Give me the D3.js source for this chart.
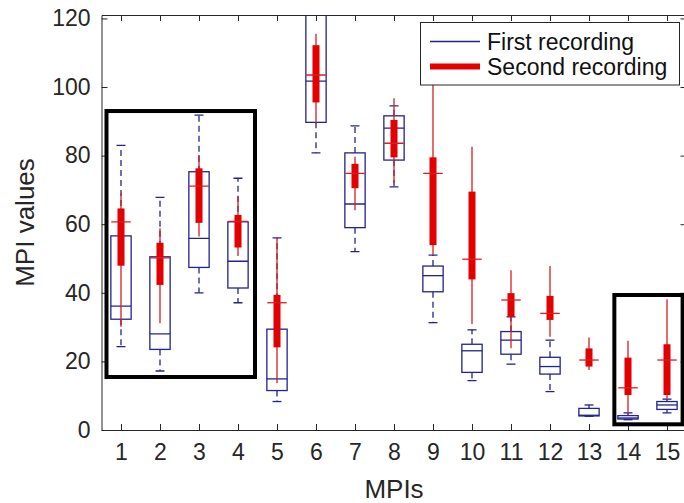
<!DOCTYPE html>
<html>
<head>
<meta charset="utf-8">
<script src="https://cdn.jsdelivr.net/npm/d3@7"></script>
<style>
  html, body { margin: 0; padding: 0; background: #fff; }
  svg { display: block; font-family: "Liberation Sans", Arial, Helvetica, sans-serif; }
</style>
</head>
<body>
<svg id="chart" width="684" height="503"></svg>
<script>
// ---- data ----
const categories = [1, 2, 3, 4, 5, 6, 7, 8, 9, 10, 11, 12, 13, 14, 15];
const yTicks = [0, 20, 40, 60, 80, 100, 120];
const seriesNames = ["First recording", "Second recording"];

// First recording (blue, standard boxplot)
const firstLo  = [24.3, 17.2, 40.0, 37.1,  8.3,  80.8, 52.0, 70.9, 31.3, 14.4, 19.2, 11.2, 4.0, 3.0, 5.0];
const firstQ1  = [32.3, 23.5, 47.4, 41.4, 11.5,  89.7, 59.0, 78.7, 40.3, 16.8, 22.1, 16.3, 4.1, 3.2, 6.0];
const firstMed = [36.1, 28.0, 55.9, 49.2, 14.9, 101.7, 65.9, 88.0, 45.0, 23.1, 26.2, 18.5, 4.3, 3.5, 7.3];
const firstQ3  = [56.6, 50.5, 75.3, 60.7, 29.4, 126.0, 80.8, 91.6, 47.8, 25.0, 28.7, 21.2, 6.3, 4.2, 8.3];
const firstHi  = [83.0, 67.8, 91.8, 73.4, 56.0, 140.0, 88.7, 94.5, 51.0, 29.2, 33.0, 26.2, 7.3, 5.0, 9.0];

// Second recording (red, compact boxplot)
const secondLo  = [30.1, 31.1, 56.4, 50.7, 13.7,  89.4, 64.1, 72.0,  51.0, 30.9, 23.8, 27.2, 17.5,  4.8,  9.2];
const secondQ1  = [47.9, 42.3, 60.4, 53.2, 24.1,  95.5, 70.5, 79.5,  53.9, 43.9, 33.0, 32.1, 18.5, 10.2, 10.2];
const secondMed = [60.7, 50.2, 71.1, 60.8, 37.1, 103.5, 74.8, 83.6,  74.8, 49.8, 37.9, 34.0, 20.4, 12.3, 20.4];
const secondQ3  = [64.6, 54.6, 76.3, 62.7, 39.4, 112.2, 77.6, 90.4,  79.5, 69.5, 39.9, 39.1, 23.8, 21.1, 25.0];
const secondHi  = [69.0, 58.8, 80.2, 68.0, 56.0, 115.5, 79.7, 96.7, 103.0, 82.6, 46.6, 47.8, 27.0, 26.0, 38.1];

// Highlight rectangles (data coords): [x0, x1, yLow, yHigh]
const highlightX0 = [0.628, 13.65];
const highlightX1 = [4.436, 15.40];
const highlightY0 = [15.45, 1.66];
const highlightY1 = [93.0, 39.36];

// ---- layout ----
const svg = d3.select("#chart");
const L = 101.5, R = 686.5, T = 15, B = 430;
const x = d3.scaleLinear().domain([0.5, 15.5]).range([L, R]);
const y = d3.scaleLinear().domain([0, 121]).range([B, T]);
const axisCol = "#262626";
const blue = "#23238f";
const red = "#e30000";
const redThin = "#d42020";

svg.append("defs").append("clipPath").attr("id", "clip")
  .append("rect").attr("x", L).attr("y", T).attr("width", R - L).attr("height", B - T);

// axes (box)
const gAx = svg.append("g");
gAx.append("g").attr("transform", `translate(0,${B})`)
  .call(d3.axisBottom(x).tickValues(categories).tickSizeInner(-6).tickSizeOuter(0).tickPadding(14).tickFormat(d3.format("d")))
  .call(g => { g.select(".domain").attr("stroke", axisCol); g.selectAll("line").attr("stroke", axisCol);
               g.selectAll("text").attr("fill", axisCol).attr("font-size", 23); });
gAx.append("g").attr("transform", `translate(0,${T})`)
  .call(d3.axisTop(x).tickValues(categories).tickSizeInner(-6).tickSizeOuter(0).tickFormat(""))
  .call(g => { g.select(".domain").attr("stroke", axisCol); g.selectAll("line").attr("stroke", axisCol); });
gAx.append("g").attr("transform", `translate(${L},0)`)
  .call(d3.axisLeft(y).tickValues(yTicks).tickSizeInner(-6).tickSizeOuter(0).tickPadding(11))
  .call(g => { g.select(".domain").attr("stroke", axisCol); g.selectAll("line").attr("stroke", axisCol);
               g.selectAll("text").attr("fill", axisCol).attr("font-size", 23); });
gAx.append("g").attr("transform", `translate(${R},0)`)
  .call(d3.axisRight(y).tickValues(yTicks).tickSizeInner(-6).tickSizeOuter(0).tickFormat(""))
  .call(g => { g.select(".domain").attr("stroke", axisCol); g.selectAll("line").attr("stroke", axisCol); });

// axis titles
svg.append("text").attr("x", (L + R) / 2).attr("y", 498).attr("text-anchor", "middle")
  .attr("font-size", 26).attr("fill", axisCol).text("MPIs");
svg.append("text").attr("transform", `translate(34,${(T + B) / 2}) rotate(-90)`).attr("text-anchor", "middle")
  .attr("font-size", 26).attr("fill", axisCol).text("MPI values");

const plot = svg.append("g").attr("clip-path", "url(#clip)");
const idx = d3.range(categories.length);
const boxHalf = 0.26, capHalf = 0.115, redHalf = 0.09, redMedHalf = 0.25;

// First recording (blue)
const gB = plot.append("g").attr("stroke", blue).attr("stroke-width", 1.3).attr("fill", "none");
gB.selectAll(".wu").data(idx).join("line")
  .attr("x1", i => x(categories[i])).attr("x2", i => x(categories[i]))
  .attr("y1", i => y(firstQ3[i])).attr("y2", i => y(firstHi[i])).attr("stroke-dasharray", "6,4");
gB.selectAll(".wl").data(idx).join("line")
  .attr("x1", i => x(categories[i])).attr("x2", i => x(categories[i]))
  .attr("y1", i => y(firstQ1[i])).attr("y2", i => y(firstLo[i])).attr("stroke-dasharray", "6,4");
gB.selectAll(".cu").data(idx).join("line")
  .attr("x1", i => x(categories[i] - capHalf)).attr("x2", i => x(categories[i] + capHalf))
  .attr("y1", i => y(firstHi[i])).attr("y2", i => y(firstHi[i]));
gB.selectAll(".cl").data(idx).join("line")
  .attr("x1", i => x(categories[i] - capHalf)).attr("x2", i => x(categories[i] + capHalf))
  .attr("y1", i => y(firstLo[i])).attr("y2", i => y(firstLo[i]));
gB.selectAll("rect").data(idx).join("rect")
  .attr("x", i => x(categories[i] - boxHalf)).attr("width", i => x(categories[i] + boxHalf) - x(categories[i] - boxHalf))
  .attr("y", i => y(firstQ3[i])).attr("height", i => y(firstQ1[i]) - y(firstQ3[i]));
gB.selectAll(".md").data(idx).join("line")
  .attr("x1", i => x(categories[i] - boxHalf)).attr("x2", i => x(categories[i] + boxHalf))
  .attr("y1", i => y(firstMed[i])).attr("y2", i => y(firstMed[i]));

// Second recording (red, compact)
const gR = plot.append("g");
gR.selectAll(".w").data(idx).join("line")
  .attr("x1", i => x(categories[i])).attr("x2", i => x(categories[i]))
  .attr("y1", i => y(secondHi[i])).attr("y2", i => y(secondLo[i]))
  .attr("stroke", redThin).attr("stroke-width", 1.3);
gR.selectAll("rect").data(idx).join("rect")
  .attr("x", i => x(categories[i] - redHalf)).attr("width", i => x(categories[i] + redHalf) - x(categories[i] - redHalf))
  .attr("y", i => y(secondQ3[i])).attr("height", i => y(secondQ1[i]) - y(secondQ3[i]))
  .attr("fill", red);
gR.selectAll(".md").data(idx).join("line")
  .attr("x1", i => x(categories[i] - redMedHalf)).attr("x2", i => x(categories[i] + redMedHalf))
  .attr("y1", i => y(secondMed[i])).attr("y2", i => y(secondMed[i]))
  .attr("stroke", redThin).attr("stroke-width", 1.3);

// Highlight rectangles
svg.append("g").selectAll("rect").data(d3.range(highlightX0.length)).join("rect")
  .attr("x", i => x(highlightX0[i])).attr("width", i => x(highlightX1[i]) - x(highlightX0[i]))
  .attr("y", i => y(highlightY1[i])).attr("height", i => y(highlightY0[i]) - y(highlightY1[i]))
  .attr("fill", "none").attr("stroke", "#000").attr("stroke-width", 4);

// Legend
const lg = svg.append("g");
lg.append("rect").attr("x", 420.5).attr("y", 22.5).attr("width", 259).attr("height", 62.5)
  .attr("fill", "#fff").attr("stroke", axisCol).attr("stroke-width", 1);
lg.append("line").attr("x1", 430).attr("x2", 480).attr("y1", 41.5).attr("y2", 41.5)
  .attr("stroke", blue).attr("stroke-width", 1.3);
lg.append("line").attr("x1", 430).attr("x2", 480).attr("y1", 66.5).attr("y2", 66.5)
  .attr("stroke", red).attr("stroke-width", 6);
lg.selectAll("text").data(seriesNames).join("text")
  .attr("x", 487).attr("y", (d, i) => 41.5 + i * 25).attr("dy", "0.35em")
  .attr("font-size", 23).attr("fill", "#111").text(d => d);
</script>
</body>
</html>
